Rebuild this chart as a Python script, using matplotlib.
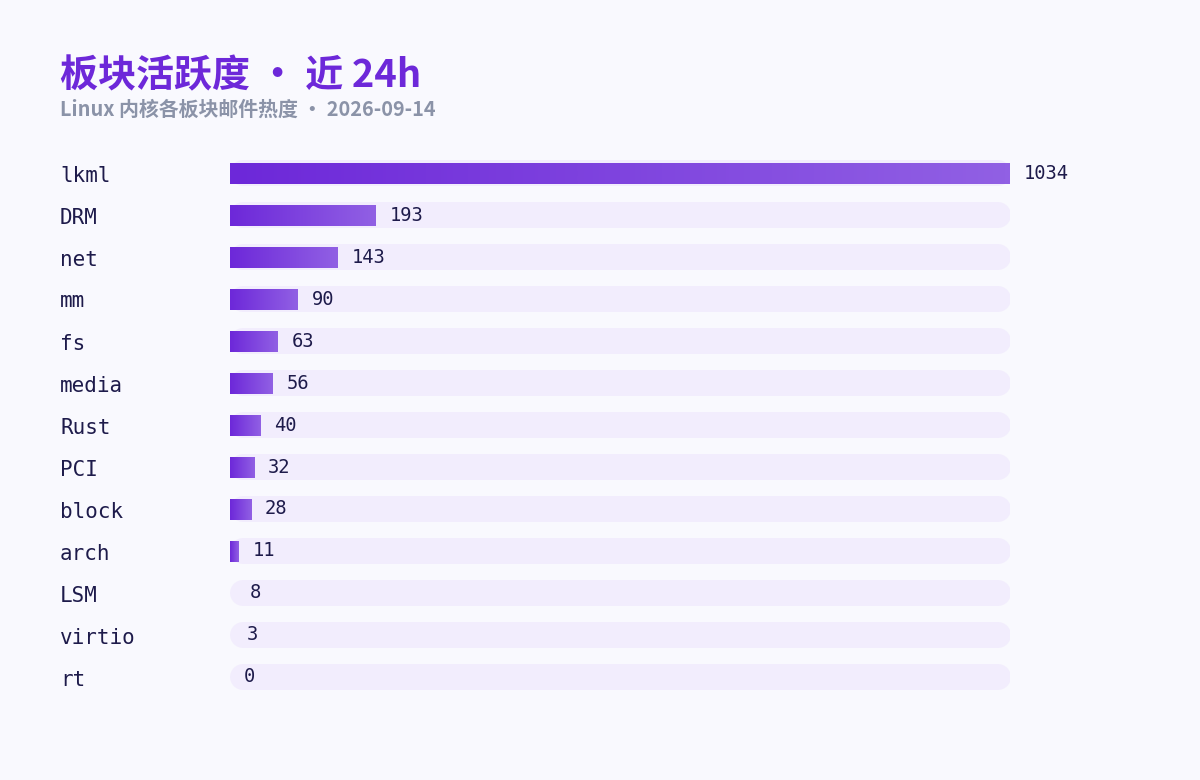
import numpy as np
import matplotlib
matplotlib.use("Agg")
import matplotlib.pyplot as plt
from matplotlib.colors import LinearSegmentedColormap

categories = ["lkml", "DRM", "net", "mm", "fs", "media", "Rust", "PCI",
              "block", "arch", "LSM", "virtio", "rt"]
values = [1034, 193, 143, 90, 63, 56, 40, 32, 28, 11, 8, 3, 0]
title = "板块活跃度 • 近 24h"
subtitle = "Linux 内核各板块邮件热度 • 2026-09-14"

BG = "#f9f9fe"
TRACK = "#f2edfd"
C0, C1 = "#6d28d9", "#9160e4"
TEXT = "#1e1b4b"
MIN_VISIBLE = 10

W, H, DPI = 1200, 780, 100
fig = plt.figure(figsize=(W / DPI, H / DPI), dpi=DPI, facecolor=BG)

n = len(categories)
left_px, right_px = 230, 1010
top_px = 152
row_px = 42
ax = fig.add_axes([left_px / W, 1 - (top_px + n * row_px) / H,
                   (right_px - left_px) / W, n * row_px / H])
ax.set_facecolor(BG)
ax.patch.set_alpha(0)
for s in ax.spines.values():
    s.set_visible(False)
ax.set_xticks([])
ax.set_yticks([])

vmax = max(values)
px_per_val = (right_px - left_px) / vmax
r_val = 13 / px_per_val
track_lw = 26 * 72 / DPI

cmap = LinearSegmentedColormap.from_list("g", [C0, C1])
grad = np.linspace(0, 1, 256).reshape(1, -1)

for i, (cat, v) in enumerate(zip(categories, values)):
    ax.plot([r_val, vmax - r_val + 1 / px_per_val], [i, i], color=TRACK,
            lw=track_lw, solid_capstyle="round", zorder=1)
    if v >= MIN_VISIBLE:
        ax.imshow(grad, cmap=cmap, extent=[0, v, i + 0.25, i - 0.25],
                  aspect="auto", zorder=2, interpolation="bilinear")
    ax.annotate(str(v), xy=(v, i), xytext=(14 * 72 / DPI, 0),
                textcoords="offset points", va="center", ha="left",
                fontsize=13.5, color=TEXT, family="DejaVu Sans Mono", zorder=3)
    fig.text(60 / W, 1 - (top_px + row_px * i + row_px / 2 + 2.5) / H, cat,
             ha="left", va="center", fontsize=15, color=TEXT,
             family="DejaVu Sans Mono")

ax.set_xlim(0, vmax)
ax.set_ylim(n - 0.5, -0.5)

fig.text(60 / W, 1 - 87 / H, title, ha="left", va="baseline",
         fontsize=27.4, fontweight="bold", color="#6d28d9",
         family=["Noto Sans CJK SC", "DejaVu Sans"])
fig.text(60 / W, 1 - 116 / H, subtitle, ha="left", va="baseline",
         fontsize=14.35, fontweight="bold", color="#8b93a8",
         family=["Noto Sans CJK SC", "DejaVu Sans"])

fig.savefig("out.png", dpi=DPI, facecolor=BG)
